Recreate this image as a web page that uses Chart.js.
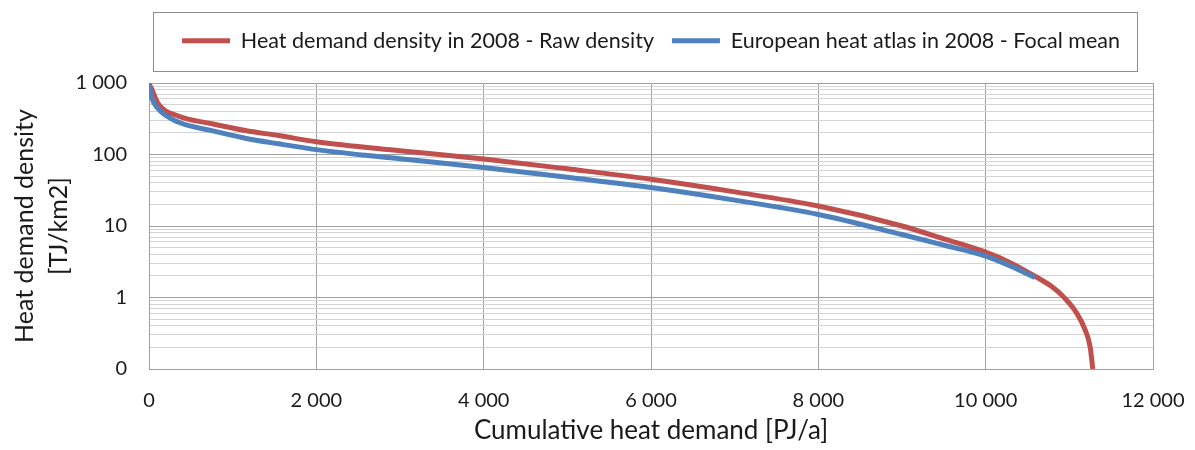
<!DOCTYPE html>
<html>
<head>
<meta charset="utf-8">
<script src="https://cdn.jsdelivr.net/npm/chart.js@4"></script>
<style>
  html, body { margin: 0; padding: 0; background: #fff; }
  #wrap { width: 1195px; height: 450px; }
</style>
</head>
<body>
<div id="wrap"><canvas id="densityChart"></canvas></div>
<script>
(() => {
  'use strict'

  // Cumulative heat demand [PJ/a] and density [TJ/km2]
  const rawX = [0, 5, 30, 110, 350, 750, 1150, 1550, 2000, 3000, 4000, 5000, 6000, 7000, 8000, 9000, 9500, 10000, 10300, 10600, 10790, 10930, 11090, 11190, 11250, 11280]
  const rawY = [1000, 950, 835, 513, 345, 269, 216, 184, 151, 113, 86.5, 63, 45, 30, 19, 10, 6.6, 4.3, 3.05, 1.95, 1.42, 1.02, 0.6, 0.35, 0.2, 0.1]
  const focalX = [0, 5, 30, 110, 350, 750, 1150, 1550, 2000, 3000, 4000, 5000, 6000, 7000, 8000, 9000, 9500, 10000, 10300, 10590]
  const focalY = [1000, 900, 638, 436, 284, 216, 169, 141, 117, 87, 66, 48, 34.5, 23, 14.5, 7.6, 5.4, 3.8, 2.75, 1.9]

  const seriesNames = ['Heat demand density in 2008 - Raw density', 'European heat atlas in 2008 - Focal mean']
  const yMajorTicks = [0.1, 1, 10, 100, 1000]
  const yTickLabels = ['0', '1', '10', '100', '1 000']

  // every 1..9 step of each decade gets a grid line
  const yGridValues = []
  for (let d = 0; d < yMajorTicks.length - 1; d++) {
    for (let s = 1; s < 10; s++) yGridValues.push(+(yMajorTicks[d] * s).toPrecision(3))
  }
  yGridValues.push(yMajorTicks[yMajorTicks.length - 1])

  const fmt = (v) => String(v).replace(/\B(?=(\d{3})+(?!\d))/g, ' ')
  const toPoints = (xs, ys) => xs.map((x, i) => ({ x, y: ys[i] }))

  // legend gets a frame, is centred over the plot and leaves room below it
  const legendBox = {
    id: 'legendBox',
    beforeLayout (chart) {
      const legend = chart.legend
      if (!legend || legend._padded) return
      const fit = legend.fit
      legend.fit = function () {
        fit.call(this)
        this.height = 71
      }
      legend._padded = true
    },
    afterLayout (chart) {
      const { legend, chartArea } = chart
      const shift = (chartArea.left + chartArea.right) / 2 - (legend.left + legend.right) / 2
      legend.left += shift
      legend.right += shift
    },
    afterDraw (chart) {
      const { ctx, legend, chartArea } = chart
      ctx.save()
      ctx.strokeStyle = '#8c8c8c'
      ctx.lineWidth = 1
      ctx.strokeRect(chartArea.left + 4.5, legend.top + 0.5, chartArea.right - chartArea.left - 20, 59)
      ctx.restore()
    }
  }

  const ctx = document.getElementById('densityChart')
  // eslint-disable-next-line no-unused-vars
  const densityChart = new Chart(ctx, {
    type: 'line',
    data: {
      datasets: [
        {
          label: seriesNames[0],
          data: toPoints(rawX, rawY),
          borderColor: '#c0504d',
          backgroundColor: '#c0504d',
          borderWidth: 5,
          pointRadius: 0,
          cubicInterpolationMode: 'monotone',
          order: 2
        },
        {
          label: seriesNames[1],
          data: toPoints(focalX, focalY),
          borderColor: '#4f81bd',
          backgroundColor: '#4f81bd',
          borderWidth: 5,
          pointRadius: 0,
          cubicInterpolationMode: 'monotone',
          order: 1
        }
      ]
    },
    options: {
      responsive: true,
      maintainAspectRatio: false,
      animation: false,
      layout: { padding: { top: 12, right: 0, left: 0, bottom: 0 } },
      plugins: {
        legend: {
          display: true,
          position: 'top',
          labels: {
            boxWidth: 48,
            boxHeight: 5,
            padding: 18,
            color: '#1a1a1a',
            font: { family: 'Lato', size: 21.5 },
            sort: (a, b) => a.datasetIndex - b.datasetIndex,
            generateLabels (chart) {
              return Chart.defaults.plugins.legend.labels.generateLabels(chart).map(l => ({ ...l, lineWidth: 0 }))
            }
          }
        },
        tooltip: { enabled: false }
      },
      scales: {
        x: {
          type: 'linear',
          min: 0,
          max: 12000,
          afterFit (s) {
            s.height = 81
            s.paddingRight = 42
          },
          ticks: {
            stepSize: 2000,
            padding: 20,
            color: '#1a1a1a',
            font: { family: 'Lato', size: 20 },
            maxRotation: 0,
            callback: (v) => fmt(v)
          },
          grid: { color: '#a0a0a0', drawTicks: false },
          border: { color: '#a0a0a0' },
          title: {
            display: true,
            text: 'Cumulative heat demand [PJ/a]',
            color: '#1a1a1a',
            font: { family: 'Lato', size: 26, lineHeight: 1.2 },
            padding: { top: 0, bottom: 4 }
          }
        },
        y: {
          type: 'logarithmic',
          min: 0.1,
          max: 1000,
          afterFit (s) { s.width = 149 },
          afterBuildTicks (s) { s.ticks = yGridValues.map(value => ({ value })) },
          ticks: {
            autoSkip: false,
            padding: 22,
            color: '#1a1a1a',
            font: { family: 'Lato', size: 20 },
            callback: (v) => {
              const i = yMajorTicks.indexOf(v)
              return i >= 0 ? yTickLabels[i] : ''
            }
          },
          grid: {
            drawTicks: false,
            color: (c) => yMajorTicks.includes(c.tick && c.tick.value) ? '#a0a0a0' : '#d4d4d4'
          },
          border: { color: '#a0a0a0' },
          title: {
            display: true,
            text: ['Heat demand density', '[TJ/km2]'],
            color: '#1a1a1a',
            font: { family: 'Lato', size: 25, lineHeight: 1.35 },
            padding: { top: 8, bottom: 0 }
          }
        }
      }
    },
    plugins: [legendBox]
  })
})()
</script>
</body>
</html>
